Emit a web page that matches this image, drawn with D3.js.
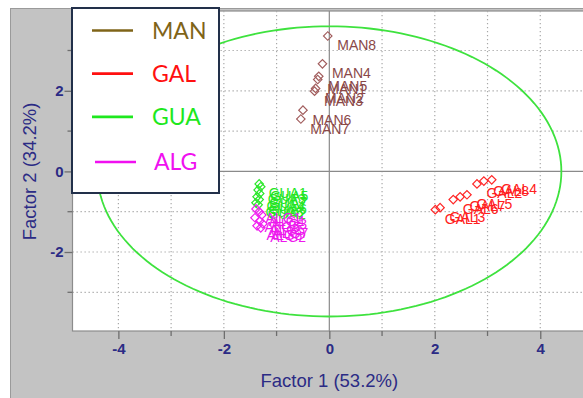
<!DOCTYPE html>
<html>
<head>
<meta charset="utf-8">
<script src="https://cdn.jsdelivr.net/npm/d3@7"></script>
<style>
  html, body { margin: 0; padding: 0; background: #ffffff; }
  svg { display: block; }
</style>
</head>
<body>
<svg id="chart" width="583" height="398"></svg>
<script>
// Group definitions (legend order)
const groups = ["MAN", "GAL", "GUA", "ALG"];
const legendColors = ["#7f6418", "#ff1010", "#1ee81e", "#f010f0"];
const markColors   = ["#a35f5f", "#ff2a2a", "#2ee82e", "#f020f0"];
const labelColors  = ["#8a4848", "#ff2020", "#22e622", "#ee18ee"];

// Score samples: names, factor 1 and factor 2 values
const manNames = ["MAN8", "MAN4", "MAN5", "MAN1", "MAN2", "MAN3", "MAN6", "MAN7"];
const manF1 = [-0.03, -0.13, -0.20, -0.22, -0.26, -0.28, -0.50, -0.54];
const manF2 = [3.36, 2.67, 2.36, 2.28, 2.06, 1.99, 1.52, 1.30];

const galNames = ["GAL1", "GAL3", "GAL6", "GAL7", "GAL5", "GAL2", "GAL8", "GAL4"];
const galF1 = [2.01, 2.10, 2.35, 2.48, 2.61, 2.80, 2.93, 3.08];
const galF2 = [-0.95, -0.90, -0.70, -0.63, -0.58, -0.31, -0.24, -0.21];

const guaNames = ["GUA1", "GUA5", "GUA3", "GUA7", "GUA4", "GUA6", "GUA8", "GUA2"];
const guaF1 = [-1.33, -1.30, -1.35, -1.32, -1.37, -1.33, -1.39, -1.35];
const guaF2 = [-0.31, -0.38, -0.46, -0.55, -0.63, -0.70, -0.78, -0.83];

const algNames = ["ALG1", "ALG4", "ALG3", "ALG6", "ALG5", "ALG7", "ALG8", "ALG2"];
const algF1 = [-1.39, -1.33, -1.28, -1.41, -1.32, -1.26, -1.37, -1.30];
const algF2 = [-0.93, -1.00, -1.08, -1.15, -1.23, -1.30, -1.35, -1.40];

// Hotelling ellipse (centre and semi-axes in score units)
const ellipseCentre = [0, 0];
const ellipseRadii = [4.4, 3.6];

// Axis ticks
const majorTicks = [-4, -2, 0, 2, 4];
const minorTicksX = [-3, -1, 1, 3];
const yMajorTicks = [-2, 0, 2];
const yMinorTicks = [-3, -1, 1, 3];
const gridX = [-4, -3, -2, -1, 1, 2, 3, 4];
const gridY = [-3, -2, -1, 1, 2, 3];

const xTitle = "Factor 1 (53.2%)";
const yTitle = "Factor 2 (34.2%)";

const svg = d3.select("#chart");
const W = 583, H = 398;
const plot = { left: 72.5, top: 11, right: 593, bottom: 331 };

const x = d3.scaleLinear().domain([-4.87, 5.0]).range([plot.left, plot.right]);
const y = d3.scaleLinear().domain([-3.96, 3.98]).range([plot.bottom, plot.top]);

const axisBlue = "#2b2b85";

// Grey frame panel
svg.append("rect").attr("x", 10.5).attr("y", 8.5).attr("width", W).attr("height", H)
  .attr("fill", "#c3c3c3").attr("stroke", "#9a9a9a").attr("stroke-width", 1);

// Plot area
svg.append("rect").attr("x", plot.left).attr("y", plot.top)
  .attr("width", plot.right - plot.left).attr("height", plot.bottom - plot.top)
  .attr("fill", "#ffffff").attr("stroke", "#8c8c8c").attr("stroke-width", 1.2);

const defs = svg.append("defs");
defs.append("clipPath").attr("id", "plotClip").append("rect")
  .attr("x", plot.left).attr("y", plot.top)
  .attr("width", plot.right - plot.left).attr("height", plot.bottom - plot.top);

const g = svg.append("g").attr("clip-path", "url(#plotClip)");

// Dotted grid
g.selectAll("line.gx").data(gridX).join("line").attr("class", "gx")
  .attr("x1", d => x(d)).attr("x2", d => x(d))
  .attr("y1", plot.top).attr("y2", plot.bottom)
  .attr("stroke", "#a8a8a8").attr("stroke-width", 1.2).attr("stroke-dasharray", "1.3,2.7");
g.selectAll("line.gy").data(gridY).join("line").attr("class", "gy")
  .attr("y1", d => y(d)).attr("y2", d => y(d))
  .attr("x1", plot.left).attr("x2", plot.right)
  .attr("stroke", "#a8a8a8").attr("stroke-width", 1.2).attr("stroke-dasharray", "1.3,2.7");

// Zero lines
g.append("line").attr("x1", x(0)).attr("x2", x(0)).attr("y1", plot.top).attr("y2", plot.bottom)
  .attr("stroke", "#8a8a8a").attr("stroke-width", 1.2);
g.append("line").attr("y1", y(0)).attr("y2", y(0)).attr("x1", plot.left).attr("x2", plot.right)
  .attr("stroke", "#8a8a8a").attr("stroke-width", 1.2);

// Ellipse
const angles = d3.range(0, 361, 2).map(a => a * Math.PI / 180);
g.append("path")
  .attr("d", d3.line()
    .x(t => x(ellipseCentre[0] + ellipseRadii[0] * Math.cos(t)))
    .y(t => y(ellipseCentre[1] + ellipseRadii[1] * Math.sin(t)))
    .curve(d3.curveLinearClosed)(angles))
  .attr("fill", "none").attr("stroke", "#3ee23e").attr("stroke-width", 1.8);

// Samples
const sets = [
  { names: manNames, f1: manF1, f2: manF2 },
  { names: galNames, f1: galF1, f2: galF2 },
  { names: guaNames, f1: guaF1, f2: guaF2 },
  { names: algNames, f1: algF1, f2: algF2 }
];
const diamond = d3.symbol().type(d3.symbolSquare).size(36);

sets.forEach((s, gi) => {
  const pts = s.names.map((n, i) => ({ name: n, f1: s.f1[i], f2: s.f2[i] }));
  const layer = g.append("g");
  layer.selectAll("path").data(pts).join("path")
    .attr("d", diamond)
    .attr("transform", d => `translate(${x(d.f1)},${y(d.f2)}) rotate(45)`)
    .attr("fill", "none").attr("stroke", markColors[gi]).attr("stroke-width", 1.2);
  layer.selectAll("text").data(pts).join("text")
    .attr("x", d => x(d.f1) + 9.5)
    .attr("y", d => y(d.f2) + 14.5)
    .attr("font-family", "Liberation Sans, Arial, sans-serif")
    .attr("font-size", 14)
    .attr("fill", labelColors[gi])
    .text(d => d.name);
});

// Axes
const tickFont = "Liberation Sans, Arial, sans-serif";
const xAxis = svg.append("g").attr("transform", `translate(0,${plot.bottom})`)
  .call(d3.axisBottom(x).tickValues(majorTicks).tickSize(8).tickSizeOuter(0).tickFormat(d3.format("d")));
xAxis.select(".domain").remove();
xAxis.selectAll(".tick line").attr("stroke", "#6e6e6e").attr("stroke-width", 1.3);
xAxis.selectAll(".tick text").attr("fill", axisBlue).attr("font-family", tickFont)
  .attr("font-size", 15).attr("font-weight", "bold").attr("dy", "1.0em").attr("y", 8)
  .text(d => d < 0 ? "-" + Math.abs(d) : d);
svg.append("g").selectAll("line").data(minorTicksX).join("line")
  .attr("x1", d => x(d)).attr("x2", d => x(d))
  .attr("y1", plot.bottom).attr("y2", plot.bottom + 5)
  .attr("stroke", "#6e6e6e").attr("stroke-width", 1.3);

const yAxis = svg.append("g").attr("transform", `translate(${plot.left},0)`)
  .call(d3.axisLeft(y).tickValues(yMajorTicks).tickSize(8).tickSizeOuter(0).tickFormat(d3.format("d")));
yAxis.select(".domain").remove();
yAxis.selectAll(".tick line").attr("stroke", "#6e6e6e").attr("stroke-width", 1.3);
yAxis.selectAll(".tick text").attr("fill", axisBlue).attr("font-family", tickFont)
  .attr("font-size", 15).attr("font-weight", "bold").attr("x", -9)
  .text(d => d < 0 ? "-" + Math.abs(d) : d);
svg.append("g").selectAll("line").data(yMinorTicks).join("line")
  .attr("y1", d => y(d)).attr("y2", d => y(d))
  .attr("x1", plot.left - 5).attr("x2", plot.left)
  .attr("stroke", "#6e6e6e").attr("stroke-width", 1.3);

// Axis titles
svg.append("text").attr("x", x(0)).attr("y", 387)
  .attr("text-anchor", "middle").attr("font-family", tickFont).attr("font-size", 18.5)
  .attr("fill", axisBlue).text(xTitle);
svg.append("text").attr("transform", `translate(36,${y(0)}) rotate(-90)`)
  .attr("text-anchor", "middle").attr("font-family", tickFont).attr("font-size", 18.5)
  .attr("fill", axisBlue).text(yTitle);

// Legend
const legend = svg.append("g");
legend.append("rect").attr("x", 72).attr("y", 8).attr("width", 147).attr("height", 185)
  .attr("fill", "#ffffff").attr("stroke", "#22304a").attr("stroke-width", 2);
const legendRows = d3.scalePoint().domain(groups).range([30.5, 160]);
const legItems = legend.selectAll("g.item").data(groups).join("g").attr("class", "item")
  .attr("transform", d => `translate(0,${legendRows(d)})`);
legItems.append("line")
  .attr("x1", (d, i) => i === 3 ? 95 : 92).attr("x2", (d, i) => i === 3 ? 136 : 133)
  .attr("y1", (d, i) => i === 3 ? 2 : 0).attr("y2", (d, i) => i === 3 ? 2 : 0)
  .attr("stroke", (d, i) => legendColors[i]).attr("stroke-width", 2.6);
legItems.append("text")
  .attr("x", (d, i) => i === 3 ? 154 : 152).attr("y", (d, i) => i === 3 ? 10 : 8)
  .attr("font-family", "Lato, 'Open Sans', sans-serif").attr("font-size", 23)
  .attr("fill", (d, i) => legendColors[i]).text(d => d);
</script>
</body>
</html>
